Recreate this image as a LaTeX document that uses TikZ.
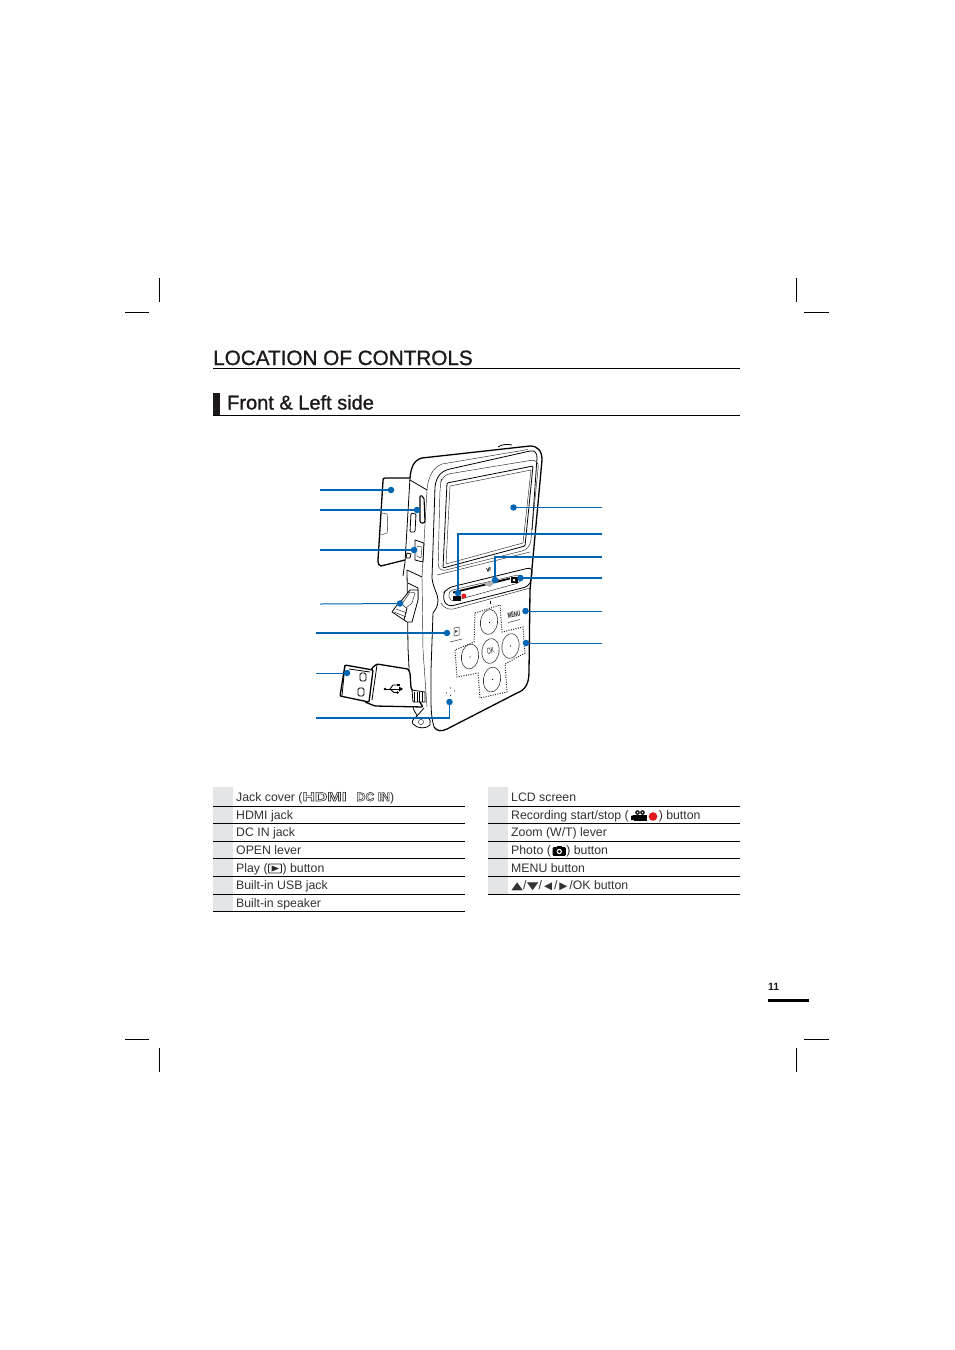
\documentclass[tikz,border=0pt]{standalone}
\usepackage{fontspec}
\usepackage{graphicx}
\setmainfont{Liberation Sans}
\newfontfamily\symfont{DejaVu Sans}
\usetikzlibrary{calc}
\definecolor{leadblue}{RGB}{0,102,179}
\definecolor{txtgrey}{RGB}{50,50,50}
\definecolor{cellgrey}{RGB}{228,229,230}
\definecolor{recred}{RGB}{225,25,30}
\definecolor{inkblack}{RGB}{30,25,25}
\newcommand{\outlinetext}[1]{\special{pdf:code 1 Tr 0.55 w}#1\special{pdf:code 0 Tr}}
\newcommand{\heavytext}[1]{\special{pdf:code 2 Tr 0.22 w}#1\special{pdf:code 0 Tr}}
\newcommand{\symb}[1]{\makebox[12pt]{\scalebox{1.45}[1]{\symfont\fontsize{10.5}{14}\selectfont #1}}}
\newcommand{\symc}[1]{\makebox[12pt]{\symfont\fontsize{10.5}{14}\selectfont #1}}
\tikzset{
  txt/.style={anchor=base west,inner sep=0pt,text=txtgrey,font=\fontsize{12.3}{14}\selectfont},
  ttl/.style={anchor=base west,inner sep=0pt,text=inkblack},
  crop/.style={line width=0.7pt,black},
  rulel/.style={line width=0.9pt,black},
  cam/.style={line width=0.8pt,black,line join=round},
  camthin/.style={line width=0.45pt,black!85,line join=round},
  camthick/.style={line width=1.3pt,black,line join=round},
  lead/.style={line width=1.9pt,leadblue},
  leadthin/.style={line width=1pt,leadblue},
  dot/.style={circle,fill=leadblue,inner sep=0pt,minimum size=6.5pt},
  dpad/.style={line width=1pt,black!85,dash pattern=on 1pt off 1.4pt},
  btn/.style={line width=0.55pt,black!80},
  cell/.style={fill=cellgrey,draw=none},
}
\begin{document}
\begin{tikzpicture}[x=1pt,y=-1pt]
\useasboundingbox[fill=white] (0,0) rectangle (954,1350);

% crop marks
\foreach \a/\b/\c/\d in {159/278/159/302,125/312/149/312,796/278/796/302,804/312/829/312,
 125/1039/149/1039,159/1048/159/1072,796/1048/796/1072,804/1039/829/1039}
  \draw[crop] (\a,\b) -- (\c,\d);

% headings
\node[ttl,font=\fontsize{20.7}{24}\selectfont] (title) at (213,365) {\heavytext{LOCATION OF CONTROLS}};
\draw[rulel] (213,368.5) -- (740,368.5);
\fill[inkblack] (213,393) rectangle (220,415.5);
\node[ttl,font=\fontsize{20}{22}\selectfont] (section) at (227,409.5) {\heavytext{Front \& Left side}};
\draw[rulel] (213,415.5) -- (740,415.5);

% flap
\draw[camthick,fill=white] (410,478) -- (385,478) .. controls (383,478) and (383,479) .. (383,481)
  -- (378,560) .. controls (378,564) and (379,566) .. (381,566) -- (405,560);
\draw[camthin] (382,513) -- (387,514) .. controls (388,520) and (388,528) .. (387,533) -- (381,535);

% body outer: bold top, right and bottom edge
\draw[camthick] (410,478) .. controls (411,467) and (414,460) .. (422,458)
  -- (530,446) .. controls (538,446) and (542,451) .. (542,460)
  -- (530,590) -- (529,672) .. controls (529,684) and (525,690) .. (517,693)
  -- (447,729) .. controls (441,732) and (437,731) .. (434,727);
% left body edges
\draw[cam] (434,727) .. controls (432,720) and (431,712) .. (431,700) -- (431,670)
  -- (433,613) .. controls (436,609) and (438,606) .. (438,600) .. controls (438,594) and (433,588) .. (432,578) -- (435,487)
  .. controls (436,478) and (440,471) .. (450,469) -- (530,451) .. controls (535,450) and (537,453) .. (537,458) -- (532,530);
\draw[cam] (410,478) -- (405,562) -- (403,576);
\draw[cam] (407,570) -- (408,648) -- (410,688);
\draw[cam] (410,480) -- (427,490);
\draw[camthin] (427,490) -- (422,577) -- (423,650) -- (427,707);
\draw[cam] (407,570) -- (422,577);
\draw[camthin] (427,490) .. controls (428,478) and (432,468) .. (442,464) -- (528,449.5);
\draw[cam] (498,447) .. controls (502,444) and (508,444) .. (512,445);

% screen bezel and screen
\draw[camthin,rounded corners=8pt] (438,572) -- (440,487) -- (442,475) -- (539,459) -- (530,549) -- cycle;
\draw[cam,rounded corners=1pt] (447,483) -- (533,466) -- (525,546) -- (443,568) -- cycle;
\draw[camthin] (450,486) -- (531,470) -- (523,543) -- (446,564) -- cycle;

% control strip
\draw[camthin] (437,575) -- (530,552);
\draw[cam,rounded corners=6pt] (442,596) -- (447,588) -- (533,567) -- (530,586) -- (447,607) -- cycle;
\draw[camthin,rounded corners=5pt] (448,591) -- (522,574) -- (522,582) -- (450,602) -- cycle;
\draw[camthin,rounded corners=8pt] (441,603) -- (446,611) -- (530,588);
\draw[line width=1.8pt,black] (453,592.5) -- (510,578.5);
\fill[black!30] (483,583.5) -- (498,580) -- (490,587) -- cycle;
\draw[line width=0.6pt,black] (486.5,568) -- (488,571.5) -- (489,567.5) (490,567) -- (490,571);
\draw[line width=0.5pt,black] (490,600.5) -- (490,603.5);
\fill[black] (453,595.5) rectangle (460.5,600.5);
\fill[recred] (463.8,596) circle (2.5);
\fill[black] (510.5,576.5) rectangle (517.5,583);
\fill[white] (514,580) circle (1.5);

% D-pad
\draw[dpad] (475,613) -- (500,605) -- (502,632) -- (523,627) -- (525,653) -- (505,664) -- (507,692) -- (480,698) -- (478,673) -- (457,677) -- (455,650) -- (474,642) -- cycle;
\foreach \n/\x/\y in {btnup/489/622,btnok/490.5/651,btnright/510.5/646,btnleft/470/656.5,btndown/492/679.5}{
  \draw[btn,rotate around={-8:(\x,\y)}] (\x,\y) ellipse (8.6 and 12.5);
}
\foreach \x/\y in {489.5/622.5,510.5/646,470/657,492.5/679.5}{\fill[black] (\x,\y) circle (0.7);}
\node[inner sep=0pt,rotate=10,text=black!85] (oklabel) at (490.5,651) {\scalebox{0.7}[1.15]{\fontsize{7.5}{8}\selectfont OK}};
\node[inner sep=0pt,rotate=12,text=black!90] (menulabel) at (514,614.5) {\scalebox{0.62}[1.1]{\fontsize{7}{8}\selectfont\bfseries MENU}};
\draw[line width=0.5pt,black!80] (508,622.5) -- (520,619.5);
\draw[line width=0.5pt,black!80] (454,628) -- (459,627) -- (459,635) -- (454,636) -- cycle;
\fill[black!70] (455,630) -- (458,631) -- (455,633) -- cycle;
\draw[line width=0.5pt,black!80] (450,642) -- (462,639);
% speaker holes
\foreach \x/\y in {450.5/688,454.5/691,446.5/693,450.5/695.5}{\fill[black!80] (\x,\y) circle (0.7);}

% lever
\draw[cam] (408,583) -- (418,588) -- (418,600);
\draw[cam,fill=white] (392,612) -- (397,605) -- (402,600) -- (410,590) -- (418,590) -- (418,600) -- (412,622) -- (407,622) -- cycle;
\draw[camthin] (402,604) -- (410,592) -- (415,593) -- (412,603) -- (406,608) -- cycle;
\draw[camthin] (394,612) -- (406,617) (396,609) -- (407,613);
\draw[cam] (407,608) -- (404,620);

% jack details
\draw[line width=1.1pt,black,rounded corners=2pt] (420,495) -- (424,497) -- (425,523) -- (420,523) -- cycle;
\draw[cam,rounded corners=1pt] (411,513) -- (416,514) -- (415,532) -- (410,532) -- cycle;
\draw[cam] (415,540) -- (424,543) -- (423,562) -- (415,560) -- cycle;
\draw[camthin] (417,546) -- (422,547) -- (421,558) -- (417,556) -- cycle;
\draw[cam] (407,553) -- (411,554) -- (410,558) -- (406,558) -- cycle;

% USB stick
\draw[camthick,fill=white,rounded corners=1pt] (372,668) -- (377,664) -- (408,669) -- (410,673) -- (411,688) -- (423,707) -- (375,706) -- (365,702) -- cycle;
\draw[cam] (377,665) -- (372,700);
\draw[camthick,fill=white,rounded corners=1pt] (345,665) -- (373,670) -- (369,702) -- (340,696) -- cycle;
\draw[cam] (349,669) -- (370,672);
\draw[cam] (345,665) -- (342,696);
\draw[cam,rounded corners=1.5pt] (360,673) rectangle (366,681);
\draw[cam,rounded corners=1.5pt] (358,688) rectangle (364,696);
\draw[line width=1pt,black] (385,689) -- (401,689);
\draw[line width=0.9pt,black] (390,689) -- (393,685) -- (397,685) (390,689) -- (394,692.5) -- (397,692.5);
\fill[black] (385,689) circle (1.4);
\fill[black] (399,686.5) -- (403,689) -- (399,691.5) -- cycle;
\fill[black] (397,683.7) rectangle (399.5,686.3);
\fill[black] (397.5,692.5) circle (1.3);
% vent and strap
\draw[cam,fill=white] (412,690) -- (425,692) -- (425,702) -- (413,702) -- cycle;
\foreach \x in {414.5,417,419.5,422}{\draw[line width=0.9pt,black] (\x,691.5) -- (\x,701.5);}
\draw[cam] (413,707) .. controls (414,712) and (417,714) .. (417,716) .. controls (413,719) and (411,722) .. (413,724) .. controls (417,729) and (427,729) .. (430,725) .. controls (431,722) and (430,719) .. (428,717);
\draw[cam] (417,716) -- (424,708);
\draw[camthin] (421,722) circle (2.6);

% leader end dots
\foreach \n/\x/\y in {dcover/391/490,dhdmi/417/510,ddc/414/550,dopen/400/603.5,dplay/447/633,dusb/347/673,dspk/449.5/702,
 dlcd/513.5/507.5,drec/458/593,dzoom/495/580,dphoto/520.5/578,dmenu/525.5/611,dnav/526/643}{
  \node[dot] (\n) at (\x,\y) {};
}
\coordinate (fcover) at (320,490);
\coordinate (fhdmi) at (320,510);
\coordinate (fdc) at (320,550);
\coordinate (fopen) at (320,604);
\coordinate (fplay) at (316,633);
\coordinate (fusb) at (316,673);
\coordinate (fspk) at (316,718);
\coordinate (flcd) at (602,507.5);
\coordinate (frec) at (602,534);
\coordinate (fzoom) at (602,557);
\coordinate (fphoto) at (602,578);
\coordinate (fmenu) at (602,611);
\coordinate (fnav) at (602,643);
\draw[lead] (fcover) -- (dcover.center);
\draw[lead] (fhdmi) -- (dhdmi.center);
\draw[lead] (fdc) -- (ddc.center);
\draw[leadthin] (fopen) -- (dopen.center);
\draw[lead] (fplay) -- (dplay.center);
\draw[leadthin] (fusb) -- (dusb.center);
\draw[lead] (fspk) -| (dspk.center);
\draw[leadthin] (flcd) -- (dlcd.center);
\draw[lead] (frec) -| (drec.center);
\draw[lead] (fzoom) -| (dzoom.center);
\draw[lead] (fphoto) -- (dphoto.center);
\draw[leadthin] (fmenu) -- (dmenu.center);
\draw[leadthin] (fnav) -- (dnav.center);

% tables
\fill[cell] (213,787) rectangle (233,911.5);
\fill[cell] (488,787) rectangle (508,894);
\foreach \y in {806.5,823.5,841,858.5,876.5,894,911.5}{\draw[rulel] (213,\y) -- (465,\y);}
\foreach \y in {806.5,823.5,841,858.5,876.5,894}{\draw[rulel] (488,\y) -- (740,\y);}

\node[txt] (l1) at (236,801) {Jack cover (\scalebox{1.38}[1]{\fontsize{12.5}{14}\selectfont\bfseries\outlinetext{HDMI}}\hspace{10pt}{\fontsize{12.3}{14}\selectfont\bfseries\outlinetext{DC IN}})};
\node[txt] (l2) at (236,819) {HDMI jack};
\node[txt] (l3) at (236,836) {DC IN jack};
\node[txt] (l4) at (236,854) {OPEN lever};
\node[txt] (l5) at (236,872) {Play (\hspace{15pt}) button};
\node[txt] (l6) at (236,889) {Built-in USB jack};
\node[txt] (l7) at (236,907) {Built-in speaker};

\node[txt] (r1) at (511,801) {LCD screen};
\node[txt] (r2) at (511,819) {Recording start/stop (\hspace{30pt}) button};
\node[txt] (r3) at (511,836) {Zoom (W/T) lever};
\node[txt] (r4) at (511,854) {Photo (\hspace{15.5pt}) button};
\node[txt] (r5) at (511,872) {MENU button};
\node[txt] (r6) at (511,889) {\symb{▲}/\symb{▼}/\symc{◀}/\symc{▶}/OK button};

% inline icons
\draw[line width=0.9pt,black!85,rounded corners=1pt] (268.5,864) rectangle (281.5,873);
\fill[black!85] (271.5,865.5) -- (279,868.5) -- (271.5,871.5) -- cycle;
\fill[black] (634,814.5) rectangle (647,821);
\fill[black] (631,816) -- (634,815) -- (634,820) -- (631,820) -- cycle;
\fill[black] (637.5,812.5) circle (2.3);
\fill[black] (642.5,812.5) circle (2.3);
\fill[white] (637.5,812.5) circle (0.9);
\fill[white] (642.5,812.5) circle (0.9);
\fill[recred] (653,816.5) circle (4.3);
\draw[line width=0.9pt,black,fill=black,rounded corners=1pt] (553,847.5) rectangle (565.5,855.5);
\fill[black] (556.5,846) rectangle (562,848);
\fill[white] (559.3,851.5) circle (2.7);
\fill[black] (559.3,851.5) circle (1.6);

% page number
\node[anchor=base west,inner sep=0pt,font=\fontsize{10.5}{12}\selectfont\bfseries,text=inkblack] (pageno) at (768,990.5) {11};
\fill[black] (768,998.5) rectangle (809,1001.5);
\end{tikzpicture}
\end{document}
